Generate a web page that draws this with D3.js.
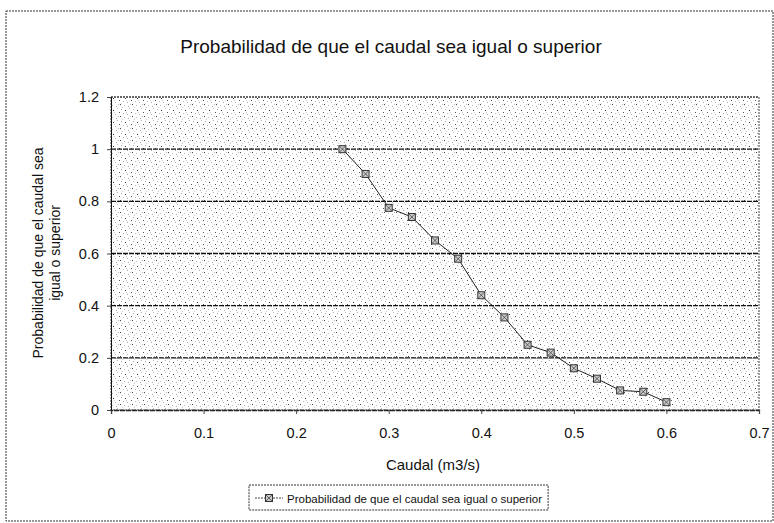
<!DOCTYPE html>
<html>
<head>
<meta charset="utf-8">
<script src="https://cdn.jsdelivr.net/npm/d3@7"></script>
<style>
  body { margin: 0; background: #fff; }
  svg { display: block; font-family: "Liberation Sans", Arial, sans-serif; }
</style>
</head>
<body>
<svg id="chart"></svg>
<script>
//Data
var caudal = [0.25, 0.275, 0.3, 0.325, 0.35, 0.375, 0.4, 0.425, 0.45, 0.475, 0.5, 0.525, 0.55, 0.575, 0.6];
var probabilidad = [1.0, 0.905, 0.775, 0.74, 0.65, 0.58, 0.44, 0.355, 0.25, 0.22, 0.16, 0.12, 0.075, 0.07, 0.03];
var xTicks = [0, 0.1, 0.2, 0.3, 0.4, 0.5, 0.6, 0.7];
var yTicks = [0, 0.2, 0.4, 0.6, 0.8, 1, 1.2];
var seriesName = "Probabilidad de que el caudal sea igual o superior";

var dataset = caudal.map(function(c, i){ return { x: c, y: probabilidad[i] }; });

//Dimensions
var dimensions = {
    width: 774,
    height: 523,
    margin: { top: 97, right: 15, bottom: 113, left: 111 }
};

var svg = d3.select("#chart")
            .attr("width", dimensions.width)
            .attr("height", dimensions.height);

//Stipple pattern for plot background
var defs = svg.append("defs");
var pat = defs.append("pattern")
              .attr("id", "stipple")
              .attr("patternUnits", "userSpaceOnUse")
              .attr("width", 12)
              .attr("height", 12);
pat.append("rect").attr("width", 12).attr("height", 12).attr("fill", "#fff");
var dots = [[1,1,"#aaa"],[5,2,"#333"],[9,0,"#bbb"],[3,5,"#bbb"],[7,6,"#aaa"],[11,4,"#555"],
            [0,8,"#444"],[4,9,"#bbb"],[8,10,"#aaa"],[10,8,"#bbb"],[2,11,"#ccc"],[6,4,"#ccc"]];
dots.forEach(function(d){
    pat.append("rect").attr("x", d[0]).attr("y", d[1]).attr("width", 1).attr("height", 1).attr("fill", d[2]);
});

//Outer border
svg.append("rect")
   .attr("x", 6).attr("y", 11)
   .attr("width", 767).attr("height", 510)
   .attr("fill", "none")
   .attr("stroke", "#333")
   .attr("stroke-dasharray", "2,1");

//Scales
var xScale = d3.scaleLinear()
               .domain([0, 0.7])
               .range([dimensions.margin.left, dimensions.width - dimensions.margin.right]);
var yScale = d3.scaleLinear()
               .domain([0, 1.2])
               .range([dimensions.height - dimensions.margin.bottom, dimensions.margin.top]);

//Plot background
svg.append("rect")
   .attr("x", xScale(0)).attr("y", yScale(1.2))
   .attr("width", xScale(0.7) - xScale(0))
   .attr("height", yScale(0) - yScale(1.2))
   .attr("fill", "url(#stipple)")
   .attr("stroke", "#444")
   .attr("stroke-dasharray", "2,1");

//Gridlines
svg.append("g")
   .selectAll("line")
   .data(yTicks.filter(function(t){ return t > 0; }))
   .join("line")
   .attr("x1", xScale(0)).attr("x2", xScale(0.7))
   .attr("y1", function(d){ return yScale(d); })
   .attr("y2", function(d){ return yScale(d); })
   .attr("stroke", function(d){ return d === 1.2 ? "#555" : "#111"; })
   .attr("stroke-width", 1.3)
   .attr("stroke-dasharray", function(d){ return d === 1.2 ? "2,1" : "5,1"; });

//X-axis
var xAxisGen = d3.axisBottom(xScale).tickValues(xTicks).tickSize(4).tickPadding(14)
                 .tickFormat(function(d){ return d3.format("")(+d.toFixed(1)); });
var xAxis = svg.append("g")
               .attr("transform", "translate(0," + yScale(0) + ")")
               .call(xAxisGen);
xAxis.select(".domain").attr("stroke", "#222").attr("stroke-width", 1.3).attr("stroke-dasharray", "5,1");
xAxis.selectAll(".tick line").attr("stroke", "#444");
xAxis.selectAll("text").style("font-size", "14.5px").attr("fill", "#111");

//Y-axis
var yAxisGen = d3.axisLeft(yScale).tickValues(yTicks).tickSize(4).tickPadding(8)
                 .tickFormat(function(d){ return d3.format("")(+d.toFixed(1)); });
var yAxis = svg.append("g")
               .attr("transform", "translate(" + xScale(0) + ",0)")
               .call(yAxisGen);
yAxis.select(".domain").attr("stroke", "#111").attr("stroke-width", 1);
yAxis.selectAll(".tick line").attr("stroke", "#444");
yAxis.selectAll("text").style("font-size", "14.5px").attr("fill", "#111");

//Title
svg.append("text")
   .attr("x", 391).attr("y", 53)
   .attr("text-anchor", "middle")
   .style("font-size", "19px")
   .attr("fill", "#111")
   .text(seriesName);

//X-axis title
svg.append("text")
   .attr("x", 433).attr("y", 470)
   .attr("text-anchor", "middle")
   .style("font-size", "15px")
   .attr("fill", "#111")
   .text("Caudal (m3/s)");

//Y-axis title (two lines)
var yTitle = svg.append("text")
   .attr("transform", "translate(43,253) rotate(-90)")
   .attr("text-anchor", "middle")
   .style("font-size", "14px")
   .attr("fill", "#111");
yTitle.append("tspan").attr("x", 0).attr("dy", 0).text("Probabilidad de que el caudal sea");
yTitle.append("tspan").attr("x", 0).attr("dy", 17).text("igual o superior");

//Line
var line = d3.line()
             .x(function(d){ return xScale(d.x); })
             .y(function(d){ return yScale(d.y); });
svg.append("path")
   .datum(dataset)
   .attr("d", line)
   .attr("fill", "none")
   .attr("stroke", "#222")
   .attr("stroke-width", 1);

//Markers
function drawMarker(g){
    g.append("rect").attr("x", -3.5).attr("y", -3.5).attr("width", 7).attr("height", 7)
     .attr("fill", "#ccc").attr("stroke", "#333").attr("stroke-width", 1);
    g.append("path").attr("d", "M-3,-3L3,3M-3,3L3,-3").attr("stroke", "#444").attr("stroke-width", 0.8);
}
svg.append("g")
   .selectAll("g")
   .data(dataset)
   .join("g")
   .attr("transform", function(d){ return "translate(" + xScale(d.x) + "," + yScale(d.y) + ")"; })
   .each(function(){ drawMarker(d3.select(this)); });

//Legend
var legend = svg.append("g").attr("transform", "translate(249,485)");
var legendText = legend.append("text")
      .attr("x", 38).attr("y", 17.5)
      .style("font-size", "11.5px")
      .attr("fill", "#111")
      .text(seriesName);
var legendWidth = legendText.node().getComputedTextLength() + 44;
legend.insert("rect", "text")
      .attr("width", legendWidth).attr("height", 25)
      .attr("fill", "#fff")
      .attr("stroke", "#333")
      .attr("stroke-dasharray", "2,1");
legend.append("line")
      .attr("x1", 6).attr("x2", 34).attr("y1", 13).attr("y2", 13)
      .attr("stroke", "#444").attr("stroke-dasharray", "2,1");
drawMarker(legend.append("g").attr("transform", "translate(20,13)"));
</script>
</body>
</html>
